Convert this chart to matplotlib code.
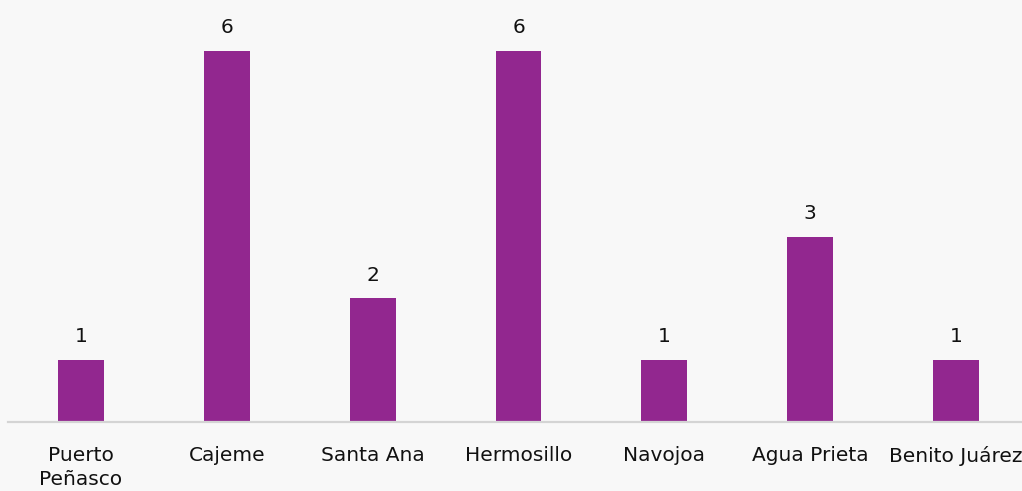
import matplotlib
matplotlib.use("Agg")
import matplotlib.pyplot as plt

categories = ["Puerto\nPeñasco", "Cajeme", "Santa Ana", "Hermosillo", "Navojoa", "Agua Prieta", "Benito Juárez"]
values = [1, 6, 2, 6, 1, 3, 1]

bar_color = "#92278F"
bg_color = "#f8f8f8"

plt.rcParams['font.family'] = ['DejaVu Sans']

fig = plt.figure(figsize=(10.22, 4.91), dpi=100)
fig.patch.set_facecolor(bg_color)

# axes spans a bit past the right edge, like the original
ax = fig.add_axes([8 / 1022, 69 / 491, 1021 / 1022, 422 / 491])
ax.set_facecolor(bg_color)

x = list(range(len(categories)))
bars = ax.bar(x, values, width=0.315, color=bar_color, zorder=2)

for xi, v in zip(x, values):
    ax.annotate(str(v), (xi, v), xytext=(0, 10), textcoords="offset points",
                ha="center", va="bottom", fontsize=14.5, color="#111111")

ax.set_xlim(-0.5, len(categories) - 0.5)
ax.set_ylim(0, 6.83)
ax.set_xticks(x)
ax.set_xticklabels(categories, fontsize=14.5, color="#111111", linespacing=1.35)
ax.tick_params(axis="x", length=0, pad=17)
ax.set_yticks([])

for side in ["top", "right", "left"]:
    ax.spines[side].set_visible(False)
ax.spines["bottom"].set_color("#d4d4d4")
ax.spines["bottom"].set_linewidth(1.6)

fig.savefig("out.png", dpi=100, facecolor=bg_color)
